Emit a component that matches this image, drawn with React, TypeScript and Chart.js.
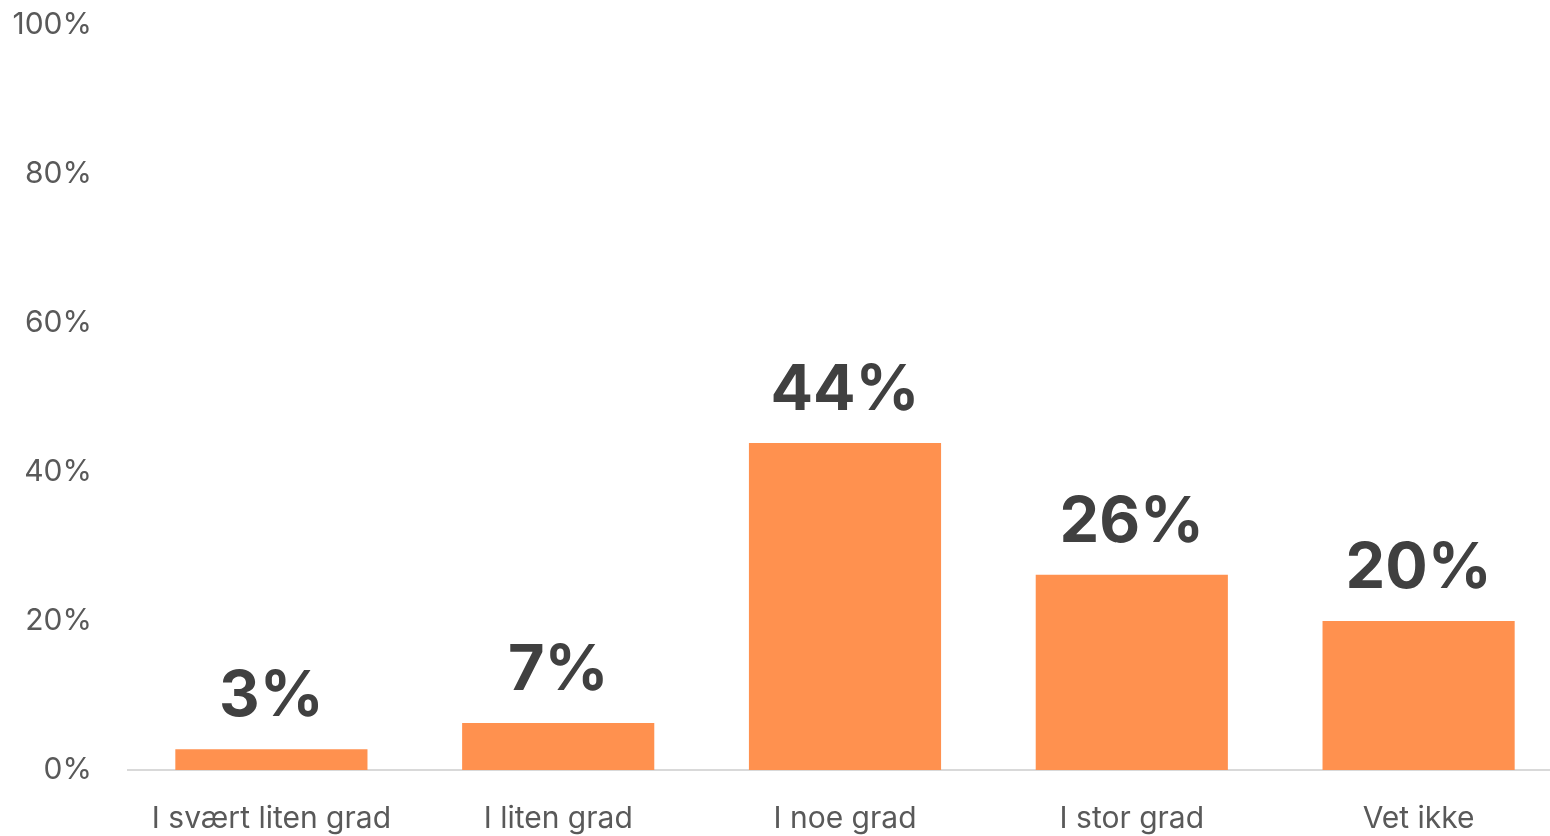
import React, { useEffect, useRef } from "react";
import { Chart, registerables } from "chart.js";

Chart.register(...registerables);

const categories = ["I svært liten grad", "I liten grad", "I noe grad", "I stor grad", "Vet ikke"];
const values = [2.8, 6.3, 43.9, 26.2, 20.0];
const valueLabels = ["3%", "7%", "44%", "26%", "20%"];
const yTicks = [0, 20, 40, 60, 80, 100];

const FONT = "Inter, 'Open Sans', sans-serif";

const labelPlugin = {
  id: "valueLabels",
  afterDatasetsDraw(chart: any) {
    const ctx = chart.ctx;
    const meta = chart.getDatasetMeta(0);
    ctx.save();
    ctx.fillStyle = "#404040";
    ctx.font = `700 63px ${FONT}`;
    ctx.textAlign = "center";
    ctx.textBaseline = "alphabetic";
    meta.data.forEach((bar: any, i: number) => {
      ctx.fillText(valueLabels[i], bar.x, bar.y - 33);
    });
    ctx.restore();
  },
};

function zeroPad(scale: any) {
  scale.paddingTop = 0;
  scale.paddingBottom = 0;
  scale.paddingLeft = 0;
  scale.paddingRight = 0;
}

export default function App() {
  const ref = useRef<HTMLCanvasElement | null>(null);
  useEffect(() => {
    document.body.style.margin = "0";
    const chart = new Chart(ref.current!, {
      type: "bar",
      data: {
        labels: categories,
        datasets: [
          {
            data: values,
            backgroundColor: "#FF914F",
            barPercentage: 1,
            categoryPercentage: 0.67,
          },
        ],
      },
      options: {
        animation: false,
        responsive: false,
        maintainAspectRatio: false,
        layout: { padding: { top: 25, right: 0, bottom: 0, left: 0 } },
        plugins: { legend: { display: false }, tooltip: { enabled: false } },
        scales: {
          x: {
            grid: { display: false, drawTicks: false },
            border: { display: true, color: "#d9d9d9", width: 2 },
            ticks: {
              color: "#595959",
              font: { family: FONT, size: 30 },
              padding: 31,
              maxRotation: 0,
            },
            afterFit(scale: any) {
              scale.height = 66;
              zeroPad(scale);
            },
          },
          y: {
            min: 0,
            max: 100,
            afterBuildTicks(scale: any) {
              scale.ticks = yTicks.map((v) => ({ value: v }));
            },
            grid: { display: false, drawTicks: false },
            border: { display: false },
            ticks: {
              color: "#595959",
              font: { family: FONT, size: 30 },
              padding: 36,
              callback: (v: any) => v + "%",
            },
            afterFit(scale: any) {
              scale.width = 128;
              zeroPad(scale);
            },
          },
        },
      },
      plugins: [labelPlugin],
    });
    return () => chart.destroy();
  }, []);
  return (
    <div style={{ position: "absolute", left: 0, top: 0, width: 1550, height: 836, overflow: "hidden" }}>
      <canvas ref={ref} width={1562} height={836} style={{ display: "block" }} />
    </div>
  );
}
